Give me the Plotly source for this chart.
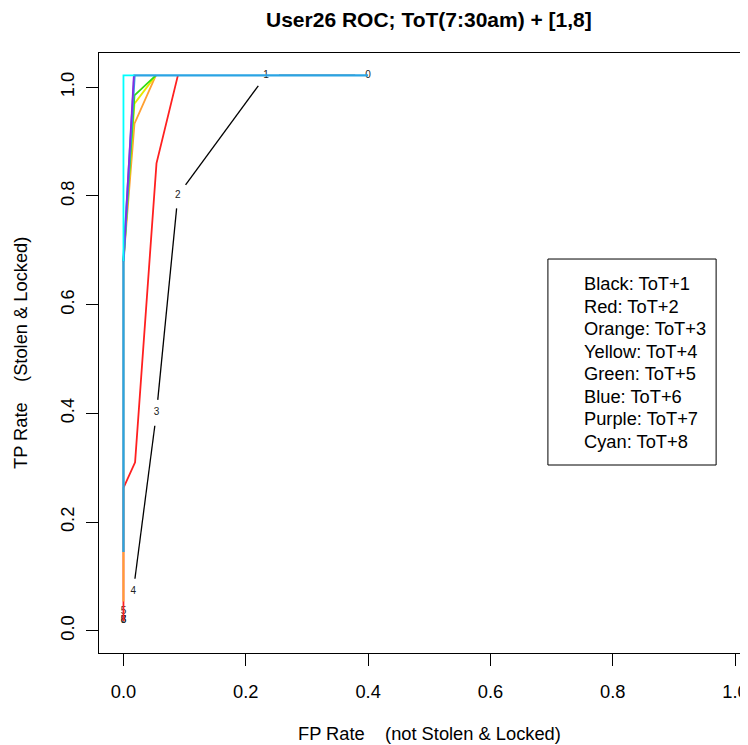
import numpy as np
import plotly.graph_objects as go

# ---------------- data ----------------
title = "User26 ROC; ToT(7:30am) + [1,8]"
x_title = "FP Rate    (not Stolen & Locked)"
y_title = "TP Rate    (Stolen & Locked)"

# black curve (ToT+1) with cutoff labels
black_fp = [0.400, 0.233, 0.089, 0.054, 0.016, 0.000, 0.000, 0.000, 0.000]
black_tp = [1.022, 1.022, 0.801, 0.401, 0.072, 0.035, 0.018, 0.018, 0.018]
black_labels = ["0", "1", "2", "3", "4", "5", "6", "7", "8"]

red_fp = [0.000, 0.000, 0.019, 0.054, 0.089]
red_tp = [0.018, 0.263, 0.310, 0.860, 1.022]

orange_fp = [0.000, 0.000, 0.018, 0.053]
orange_tp = [0.054, 0.680, 0.933, 1.022]

yellow_fp = [0.000, 0.018, 0.053]
yellow_tp = [0.680, 0.970, 1.022]

green_fp = [0.000, 0.018, 0.053]
green_tp = [0.680, 0.985, 1.022]

blue_fp = [0.000, 0.000, 0.018, 0.400]
blue_tp = [0.145, 0.680, 1.022, 1.022]

purple_fp = [0.000, 0.017]
purple_tp = [0.680, 1.022]

cyan_fp = [0.000, 0.000, 0.018]
cyan_tp = [0.680, 1.022, 1.022]

legend_lines = ["Black: ToT+1", "Red: ToT+2", "Orange: ToT+3", "Yellow: ToT+4",
                "Green: ToT+5", "Blue: ToT+6", "Purple: ToT+7", "Cyan: ToT+8"]

x_ticks = [0.0, 0.2, 0.4, 0.6, 0.8, 1.0]
y_ticks = [0.0, 0.2, 0.4, 0.6, 0.8, 1.0]

# ---------------- layout geometry ----------------
# page body has an 8px margin, so the figure is sized to fit within it
W, H = 740, 737
ML, MR, MT, MB = 91, 0, 45, 92
xr = [-0.04, 1.0146]
yr = [-0.0409, 1.0631]
sx = (W - ML - MR) / (xr[1] - xr[0])
sy = (H - MT - MB) / (yr[1] - yr[0])

FONT = "Liberation Sans, Arial, Helvetica, sans-serif"


def gapped(xs, ys, gap):
    ox, oy = [], []
    for i in range(len(xs) - 1):
        x0, y0, x1, y1 = xs[i], ys[i], xs[i + 1], ys[i + 1]
        dxp, dyp = (x1 - x0) * sx, (y1 - y0) * sy
        L = np.hypot(dxp, dyp)
        if L <= 2 * gap:
            continue
        ux, uy = dxp / L, dyp / L
        ox += [x0 + ux * gap / sx, x1 - ux * gap / sx, None]
        oy += [y0 + uy * gap / sy, y1 - uy * gap / sy, None]
    return ox, oy


fig = go.Figure()

bx, by = gapped(black_fp, black_tp, 13)
fig.add_trace(go.Scatter(x=bx, y=by, mode="lines",
                         line=dict(color="black", width=1.3), hoverinfo="skip"))
fig.add_trace(go.Scatter(x=black_fp, y=black_tp, mode="text", text=black_labels,
                         textposition="middle center",
                         textfont=dict(family=FONT, size=10, color="#222"),
                         hoverinfo="skip"))

curves = [
    (red_fp, red_tp, "#FF2020", 1.8),
    (orange_fp, orange_tp, "#FFA030", 1.8),
    (yellow_fp, yellow_tp, "#E8E800", 1.8),
    (green_fp, green_tp, "#33DD11", 1.8),
    (blue_fp, blue_tp, "#2AA4E4", 2.4),
    (purple_fp, purple_tp, "#8A2BE2", 1.8),
    (cyan_fp, cyan_tp, "#00FFFF", 1.8),
]
for xs, ys, c, w in curves:
    fig.add_trace(go.Scatter(x=xs, y=ys, mode="lines",
                             line=dict(color=c, width=w), hoverinfo="skip"))

# legend box
fig.add_shape(type="rect", xref="x", yref="y", x0=0.694, x1=0.969, y0=0.305, y1=0.684,
              line=dict(color="black", width=1), fillcolor="rgba(0,0,0,0)")
leg_top = 0.639
leg_step = 0.0415
for i, t in enumerate(legend_lines):
    fig.add_annotation(x=0.750, y=leg_top - i * leg_step, xref="x", yref="y",
                       text=t, showarrow=False, xanchor="left", yanchor="middle",
                       font=dict(family=FONT, size=18.3, color="black"))

# axis titles
fig.add_annotation(x=0.5, xref="x", y=0, yref="paper", yshift=-80, text=x_title,
                   showarrow=False, xanchor="center", yanchor="middle",
                   font=dict(family=FONT, size=18.3, color="black"))
fig.add_annotation(x=0, xref="paper", xshift=-79, y=0.5, yref="paper", text=y_title,
                   showarrow=False, textangle=-90, xanchor="center", yanchor="middle",
                   font=dict(family=FONT, size=18.3, color="black"))
fig.add_annotation(x=0.5, xref="x", y=1, yref="paper", yshift=34, text="<b>" + title + "</b>",
                   showarrow=False, xanchor="center", yanchor="middle",
                   font=dict(family=FONT, size=21, color="black"))

fig.update_layout(
    width=W, height=H,
    margin=dict(l=ML, r=MR, t=MT, b=MB, pad=0),
    paper_bgcolor="white", plot_bgcolor="white",
    showlegend=False,
    font=dict(family=FONT, size=18.3, color="black"),
)
fig.update_xaxes(range=xr, tickvals=x_ticks, ticktext=[f"{v:.1f}" for v in x_ticks],
                 showgrid=False, zeroline=False, showline=True, mirror=True,
                 linecolor="black", linewidth=1, ticks="outside", ticklen=12,
                 tickcolor="black", tickwidth=1, ticklabelstandoff=10,
                 ticklabeloverflow="allow",
                 tickfont=dict(family=FONT, size=18.3, color="black"))
fig.update_yaxes(range=yr, tickvals=y_ticks, ticktext=[f"{v:.1f}" for v in y_ticks],
                 showgrid=False, zeroline=False, showline=True, mirror=False,
                 linecolor="black", linewidth=1, ticks="outside", ticklen=12,
                 tickcolor="black", tickwidth=1, tickangle=-90, ticklabelstandoff=5,
                 tickfont=dict(family=FONT, size=18.3, color="black"))

fig.write_html("out.html")
